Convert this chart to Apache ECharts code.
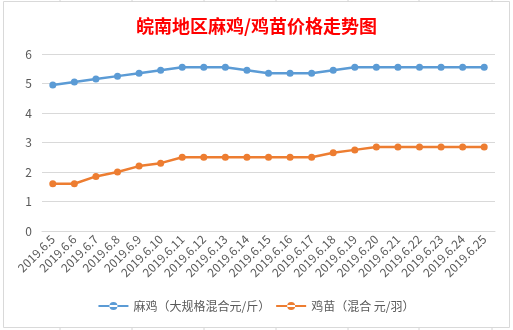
<!DOCTYPE html>
<html><head><meta charset="utf-8">
<script src="https://cdn.jsdelivr.net/npm/echarts@6/dist/echarts.min.js"></script>
<style>html,body{margin:0;padding:0;background:#fff;}#c{width:513px;height:330px;}</style>
</head><body><div id="c"></div>
<script>
const categories = ['2019.6.5','2019.6.6','2019.6.7','2019.6.8','2019.6.9','2019.6.10','2019.6.11','2019.6.12','2019.6.13','2019.6.14','2019.6.15','2019.6.16','2019.6.17','2019.6.18','2019.6.19','2019.6.20','2019.6.21','2019.6.22','2019.6.23','2019.6.24','2019.6.25'];
const maji = [4.95,5.05,5.15,5.25,5.35,5.45,5.55,5.55,5.55,5.45,5.35,5.35,5.35,5.45,5.55,5.55,5.55,5.55,5.55,5.55,5.55];
const jimiao = [1.6,1.6,1.85,2.0,2.2,2.3,2.5,2.5,2.5,2.5,2.5,2.5,2.5,2.65,2.75,2.85,2.85,2.85,2.85,2.85,2.85];
const seriesNames = ['麻鸡（大规格混合元/斤）','鸡苗（混合 元/羽）'];
const titleText = '皖南地区麻鸡/鸡苗价格走势图';
const yTicks = {min:0, max:6, interval:1};

const font = '"Noto Sans CJK SC", "Noto Sans", sans-serif';
const chart = echarts.init(document.getElementById('c'));
const sheetLines = [];
[60,132,204,276,348,419,492].forEach(x=>{
  sheetLines.push({type:'line',shape:{x1:x,y1:0,x2:x,y2:2},style:{stroke:'#d4d4d4',lineWidth:1},z:-1});
  sheetLines.push({type:'line',shape:{x1:x,y1:328,x2:x,y2:330},style:{stroke:'#d4d4d4',lineWidth:1},z:-1});
});
const legendIcon = 'path://M0,4h30v2H0z M15,5m-4,0a4,4 0 1,0 8,0a4,4 0 1,0 -8,0';
chart.setOption({
  backgroundColor:'#fff',
  animation:false,
  textStyle:{fontFamily:font},
  graphic: [{type:'rect',shape:{x:3.5,y:1.5,width:506,height:326},style:{fill:'#fff',stroke:'#d9d9d9',lineWidth:1},z:-2}].concat(sheetLines),
  title:{text:titleText,left:'center',top:12,textStyle:{color:'#ff0000',fontSize:18,fontWeight:'bold',fontFamily:font}},
  grid:{left:42,right:18,top:54,bottom:99,containLabel:false},
  legend:{bottom:13,left:'center',itemWidth:30,itemHeight:8,itemGap:6,
    textStyle:{color:'#595959',fontSize:12,fontFamily:font},
    data:[{name:seriesNames[0],icon:legendIcon},{name:seriesNames[1],icon:legendIcon}]},
  xAxis:{type:'category',data:categories,boundaryGap:true,
    axisLine:{show:true,lineStyle:{color:'#d9d9d9'}},axisTick:{show:false},
    axisLabel:{rotate:45,interval:0,color:'#595959',fontSize:12,margin:6,fontFamily:font}},
  yAxis:{type:'value',min:yTicks.min,max:yTicks.max,interval:yTicks.interval,
    axisLine:{show:false},axisTick:{show:false},
    splitLine:{lineStyle:{color:'#d9d9d9',width:1}},
    axisLabel:{color:'#595959',fontSize:12,margin:10,fontFamily:font}},
  series:[
    {name:seriesNames[0],type:'line',data:maji,symbol:'circle',symbolSize:7,
     itemStyle:{color:'#5b9bd5'},lineStyle:{color:'#5b9bd5',width:2.5}},
    {name:seriesNames[1],type:'line',data:jimiao,symbol:'circle',symbolSize:7,
     itemStyle:{color:'#ed7d31'},lineStyle:{color:'#ed7d31',width:2.5}}
  ]
});
</script></body></html>
